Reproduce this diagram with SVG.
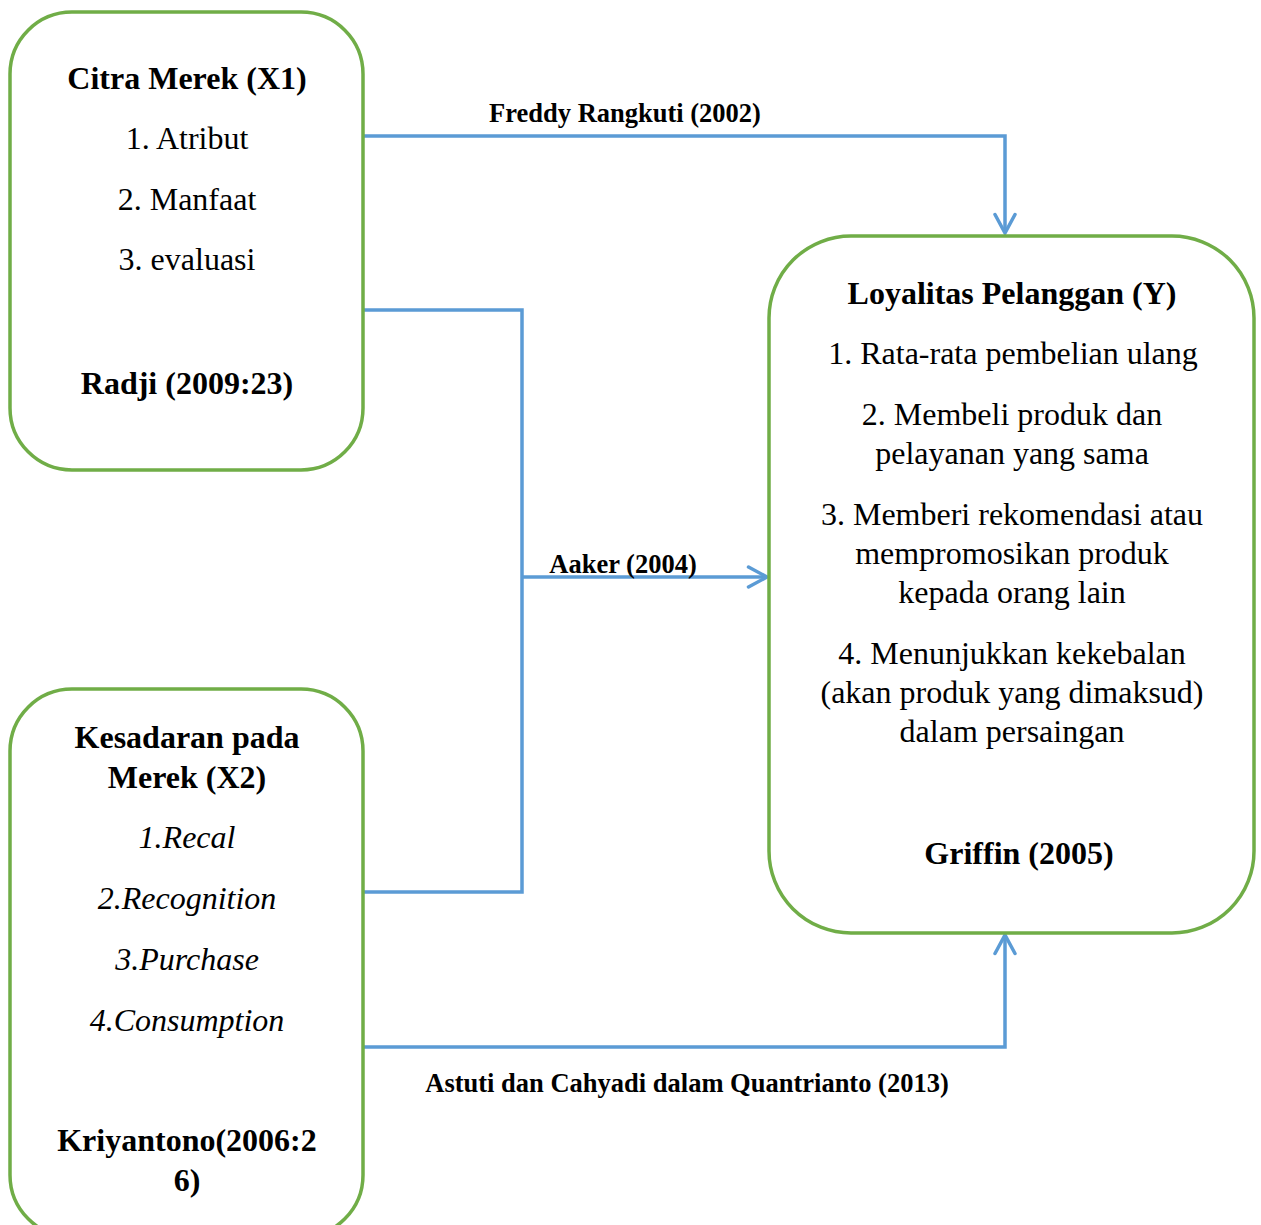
<svg xmlns="http://www.w3.org/2000/svg" width="1261" height="1225" viewBox="0 0 1261 1225" font-family="Liberation Serif, Times New Roman, serif">
<defs>
<style>
.box{fill:#fff;stroke:#70AD47;stroke-width:3.5}
.conn{fill:none;stroke:#5B9BD5;stroke-width:3.5}
.t{font-size:32px;fill:#000;text-anchor:middle}
.b{font-weight:bold}
.i{font-style:italic}
.lbl{font-size:26.5px;font-weight:bold;fill:#000;text-anchor:middle}
</style>
<marker id="arr" viewBox="0 0 24 24" refX="21.5" refY="12" markerWidth="24" markerHeight="24" markerUnits="userSpaceOnUse" orient="auto">
<path d="M3,2 L21.5,12 L3,22" fill="none" stroke="#5B9BD5" stroke-width="3.5" stroke-linecap="round" stroke-linejoin="miter"/>
</marker>
</defs>
<rect width="1261" height="1225" fill="#fff"/>
<g id="connectors">
<path class="conn" d="M363,136 H1005 V233" marker-end="url(#arr)"/>
<path class="conn" d="M363,310 H522 V892 H363"/>
<path class="conn" d="M522,577 H767" marker-end="url(#arr)"/>
<path class="conn" d="M363,1047 H1005 V935" marker-end="url(#arr)"/>
<text class="lbl" x="625" y="122">Freddy Rangkuti (2002)</text>
<text class="lbl" x="623" y="573">Aaker (2004)</text>
<text class="lbl" x="687" y="1092">Astuti dan Cahyadi dalam Quantrianto (2013)</text>
</g>
<g id="citra-merek">
<rect class="box" x="10" y="12" width="353" height="458" rx="62"/>
<text class="t b" x="187" y="88.5">Citra Merek (X1)</text>
<text class="t" x="187" y="148.5">1. Atribut</text>
<text class="t" x="187" y="209.5">2. Manfaat</text>
<text class="t" x="187" y="269.5">3. evaluasi</text>
<text class="t b" x="187" y="393.5">Radji (2009:23)</text>
</g>
<g id="kesadaran-merek">
<rect class="box" x="10" y="689" width="353" height="548" rx="62"/>
<text class="t b" x="187" y="747.5">Kesadaran pada</text>
<text class="t b" x="187" y="787.5">Merek (X2)</text>
<text class="t i" x="187" y="847.5">1.Recal</text>
<text class="t i" x="187" y="908.5">2.Recognition</text>
<text class="t i" x="187" y="969.5">3.Purchase</text>
<text class="t i" x="187" y="1030.5">4.Consumption</text>
<text class="t b" x="187" y="1150.5">Kriyantono(2006:2</text>
<text class="t b" x="187" y="1190.5">6)</text>
</g>
<g id="loyalitas">
<rect class="box" x="769" y="236" width="485" height="697" rx="82"/>
<text class="t b" x="1012" y="303.5">Loyalitas Pelanggan (Y)</text>
<text class="t" x="1013" y="363.5">1. Rata-rata pembelian ulang</text>
<text class="t" x="1012" y="424.5">2. Membeli produk dan</text>
<text class="t" x="1012" y="463.5">pelayanan yang sama</text>
<text class="t" x="1012" y="524.5">3. Memberi rekomendasi atau</text>
<text class="t" x="1012" y="563.5">mempromosikan produk</text>
<text class="t" x="1012" y="602.5">kepada orang lain</text>
<text class="t" x="1012" y="663.5">4. Menunjukkan kekebalan</text>
<text class="t" x="1012" y="702.5">(akan produk yang dimaksud)</text>
<text class="t" x="1012" y="741.5">dalam persaingan</text>
<text class="t b" x="1019" y="863.5">Griffin (2005)</text>
</g>
</svg>
